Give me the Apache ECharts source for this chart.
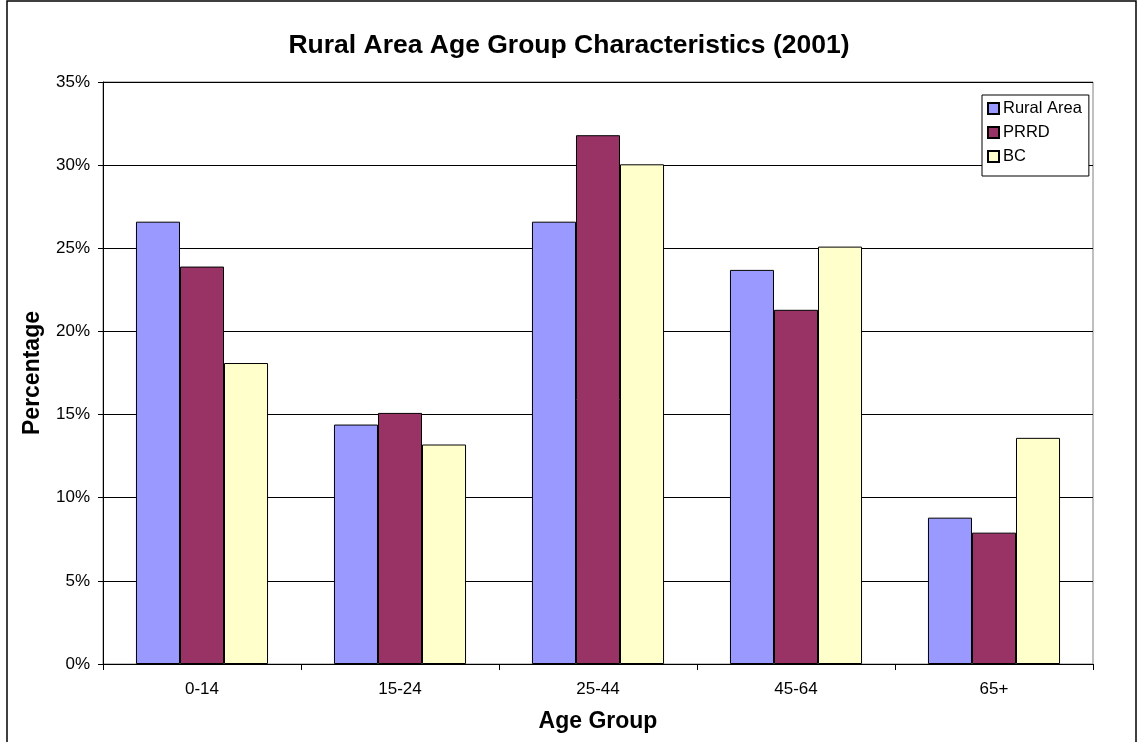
<!DOCTYPE html>
<html>
<head>
<meta charset="utf-8">
<script src="https://cdn.jsdelivr.net/npm/echarts@6/dist/echarts.min.js"></script>
<style>
html,body{margin:0;padding:0;background:#fff;}
#chart{width:1138px;height:742px;}
</style>
</head>
<body>
<div id="chart"></div>
<script>
const categories = ['0-14', '15-24', '25-44', '45-64', '65+'];
const ruralArea = [26.6, 14.4, 26.6, 23.7, 8.8];
const prrd = [23.9, 15.1, 31.8, 21.3, 7.9];
const bc = [18.1, 13.2, 30.05, 25.1, 13.6];
const seriesNames = ['Rural Area', 'PRRD', 'BC'];
const yTicks = [0, 5, 10, 15, 20, 25, 30, 35];

const chart = echarts.init(document.getElementById('chart'));
const font = 'Liberation Sans, Arial, sans-serif';
const barStyle = c => ({ color: c, borderColor: '#000', borderWidth: 1 });
chart.setOption({
  animation: false,
  backgroundColor: '#fff',
  textStyle: { fontFamily: font, color: '#000' },
  title: {
    text: 'Rural Area Age Group Characteristics (2001)',
    left: 'center', top: 27,
    textStyle: { fontFamily: font, fontSize: 26.5, fontWeight: 'bold', color: '#000' }
  },
  graphic: [{
    type: 'rect', shape: { x: 7, y: 1, width: 1129, height: 760 },
    style: { fill: 'none', stroke: '#000', lineWidth: 1.5 }, silent: true, z: 100
  }],
  legend: {
    orient: 'vertical', left: 982, top: 95,
    padding: [5, 7, 11, 5], itemGap: 7,
    itemWidth: 11, itemHeight: 11,
    borderColor: '#000', borderWidth: 1, backgroundColor: '#fff',
    textStyle: { fontFamily: font, fontSize: 16.5, lineHeight: 17, color: '#000', padding: [0, 0, 0, -1] },
    data: seriesNames.map(n => ({ name: n, icon: 'rect' }))
  },
  grid: {
    left: 103, right: 45, top: 82, bottom: 78,
    show: true, borderColor: '#808080', borderWidth: 1
  },
  xAxis: {
    type: 'category', data: categories,
    name: 'Age Group', nameLocation: 'middle', nameGap: 46,
    nameTextStyle: { fontFamily: font, fontSize: 23, fontWeight: 'bold', color: '#000' },
    axisLine: { lineStyle: { color: '#000', width: 1 } },
    axisTick: { show: true, length: 6, alignWithLabel: false, lineStyle: { color: '#000' } },
    axisLabel: { fontFamily: font, fontSize: 17, color: '#000', margin: 17 }
  },
  yAxis: {
    type: 'value', min: yTicks[0], max: yTicks[yTicks.length - 1], interval: 5,
    name: 'Percentage', nameLocation: 'middle', nameGap: 59,
    nameTextStyle: { fontFamily: font, fontSize: 23, fontWeight: 'bold', color: '#000' },
    axisLine: { show: true, lineStyle: { color: '#000', width: 1 } },
    axisTick: { show: true, length: 5, lineStyle: { color: '#000' } },
    axisLabel: { fontFamily: font, fontSize: 17, color: '#000', margin: 13, formatter: '{value}%' },
    splitLine: { show: true, lineStyle: { color: '#000', width: 1 } }
  },
  series: [
    { name: seriesNames[0], type: 'bar', data: ruralArea, itemStyle: barStyle('#9999FF'), barGap: '0%', barCategoryGap: '33.3%' },
    { name: seriesNames[1], type: 'bar', data: prrd, itemStyle: barStyle('#993366'), barGap: '0%', barCategoryGap: '33.3%' },
    { name: seriesNames[2], type: 'bar', data: bc, itemStyle: barStyle('#FFFFCC'), barGap: '0%', barCategoryGap: '33.3%' }
  ]
});
</script>
</body>
</html>
